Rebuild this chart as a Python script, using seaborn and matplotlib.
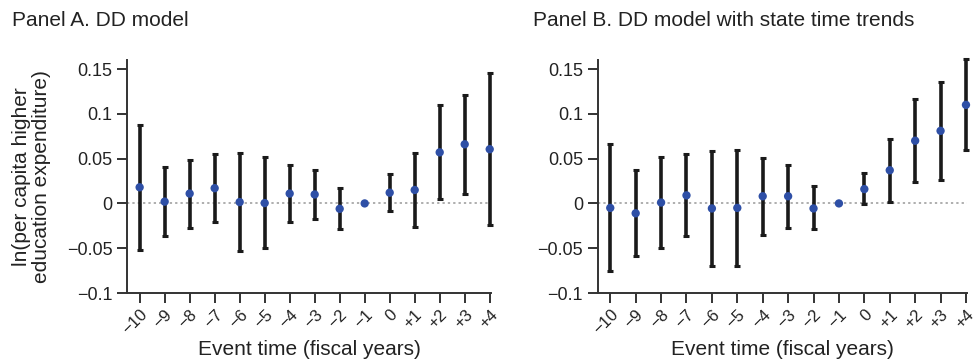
import numpy as np
import pandas as pd
import matplotlib
matplotlib.use("Agg")
import matplotlib.pyplot as plt
import seaborn as sns

event_time = [-10, -9, -8, -7, -6, -5, -4, -3, -2, -1, 0, 1, 2, 3, 4]
tick_labels = ["\u221210", "\u22129", "\u22128", "\u22127", "\u22126", "\u22125", "\u22124",
               "\u22123", "\u22122", "\u22121", "0", "+1", "+2", "+3", "+4"]

# Panel A: DD model
est_a = [0.018, 0.002, 0.011, 0.017, 0.0015, 0.0004, 0.011, 0.010, -0.006, 0.0,
         0.012, 0.015, 0.057, 0.066, 0.0605]
hi_a = [0.087, 0.041, 0.048, 0.055, 0.056, 0.052, 0.043, 0.037, 0.017, 0.0,
        0.033, 0.056, 0.110, 0.121, 0.1455]
lo_a = [-0.052, -0.036, -0.027, -0.021, -0.053, -0.050, -0.021, -0.017, -0.028, 0.0,
        -0.0085, -0.026, 0.0045, 0.011, -0.024]

# Panel B: DD model with state time trends
est_b = [-0.005, -0.011, 0.001, 0.009, -0.0056, -0.005, 0.008, 0.008, -0.0056, 0.0,
         0.016, 0.037, 0.070, 0.081, 0.110]
hi_b = [0.066, 0.037, 0.052, 0.055, 0.059, 0.060, 0.051, 0.043, 0.019, 0.0,
        0.034, 0.072, 0.116, 0.136, 0.1615]
lo_b = [-0.075, -0.059, -0.050, -0.036, -0.070, -0.070, -0.035, -0.027, -0.029, 0.0,
        -0.001, 0.002, 0.024, 0.026, 0.060]

yticks = [-0.1, -0.05, 0, 0.05, 0.1, 0.15]
ytick_labels = ["\u22120.1", "\u22120.05", "0", "0.05", "0.1", "0.15"]

sns.set_style("ticks")
plt.rcParams["font.family"] = ["Liberation Sans", "DejaVu Sans"]

fig = plt.figure(figsize=(9.78, 3.64), dpi=100)
ax_a = fig.add_axes([0.130, 0.195, 0.372, 0.640])
ax_b = fig.add_axes([0.611, 0.195, 0.378, 0.640])

panels = [
    (ax_a, est_a, lo_a, hi_a, "Panel A. DD model", 0.012),
    (ax_b, est_b, lo_b, hi_b, "Panel B. DD model with state time trends", 0.545),
]

for ax, est, lo, hi, title, tx in panels:
    df = pd.DataFrame({"t": event_time, "est": est, "lo": lo, "hi": hi})
    ax.axhline(0, color="#999999", lw=1.1, ls=(0, (1.5, 2)), zorder=1)
    bars = df[df["t"] != -1]
    ax.errorbar(bars["t"], bars["est"],
                yerr=[bars["est"] - bars["lo"], bars["hi"] - bars["est"]],
                fmt="none", ecolor="#1a1a1a", elinewidth=2.6, capsize=2.5,
                capthick=2.2, zorder=2, clip_on=False)
    sns.scatterplot(data=df, x="t", y="est", ax=ax, color="#2e4fa6", s=36,
                    edgecolor="none", zorder=3, clip_on=False)
    ax.set_xlim(-10.5, 4.05)
    ax.set_ylim(-0.1, 0.16)
    ax.set_yticks(yticks)
    ax.set_yticklabels(ytick_labels, fontsize=13, color="#222222")
    ax.set_xticks(event_time)
    ax.set_xticklabels(tick_labels, rotation=45, ha="right", rotation_mode="anchor",
                       fontsize=12, color="#222222")
    ax.tick_params(axis="both", direction="out", length=7, width=1.4, color="#333333")
    ax.tick_params(axis="x", pad=3)
    for side in ["left", "bottom"]:
        ax.spines[side].set_linewidth(1.4)
        ax.spines[side].set_color("#333333")
    sns.despine(ax=ax)
    ax.set_xlabel("Event time (fiscal years)", fontsize=15, color="#222222", labelpad=2)
    ax.set_ylabel("")
    fig.text(tx, 0.943, title, fontsize=15, color="#222222", ha="left", va="center")

fig.text(0.032, 0.515, "ln(per capita higher\neducation expenditure)", fontsize=15,
         color="#222222", rotation=90, ha="center", va="center", linespacing=1.05)

fig.savefig("out.png", dpi=100)
